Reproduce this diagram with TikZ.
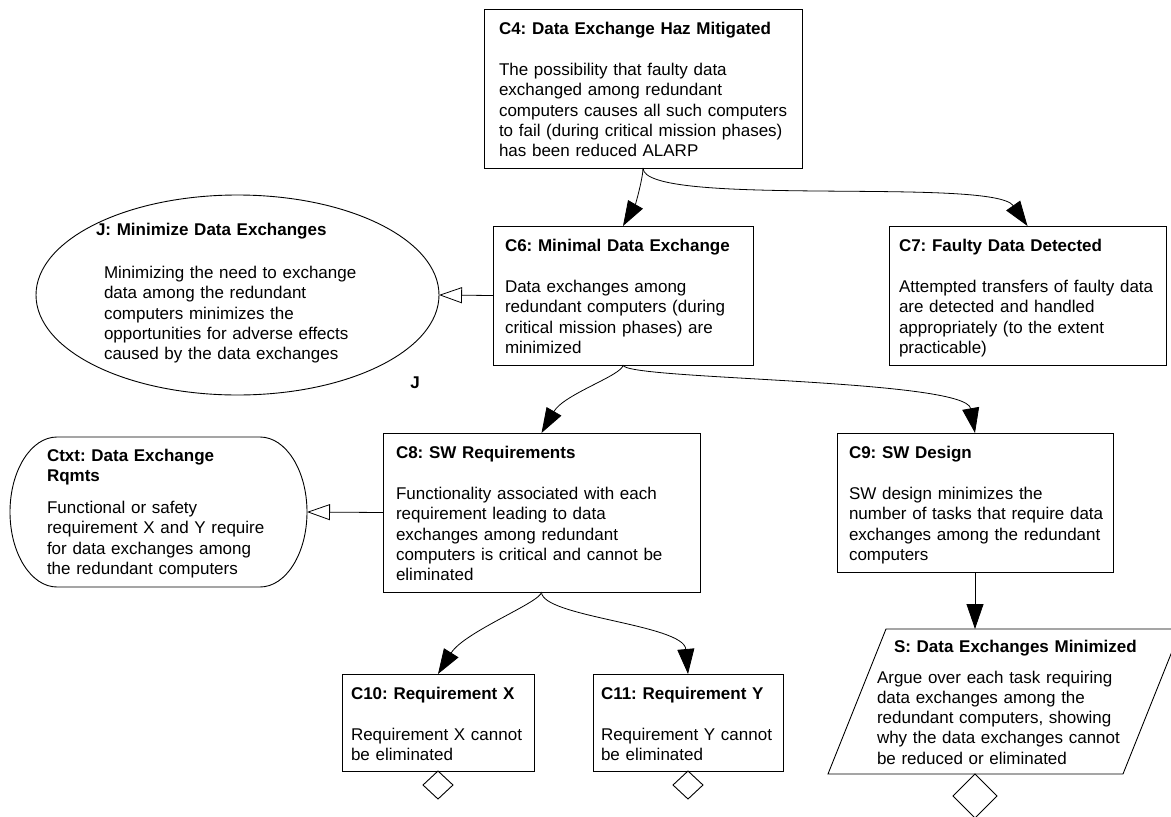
\documentclass[tikz,border=0pt]{standalone}
\usepackage{fontspec}
\setmainfont{Liberation Sans}
\usetikzlibrary{arrows.meta,shapes.geometric}
\frenchspacing
\newcommand\gsnfont{\fontsize{17pt}{20.3pt}\selectfont}
\tikzset{
  gbox/.style={draw, line width=0.9pt, fill=white, inner sep=0pt, outer sep=0pt, anchor=north west},
  gtxt/.style={anchor=base west, inner sep=0pt, outer sep=0pt, text width=#1, align=left, font=\gsnfont},
  gtxt/.default=300pt,
  hidden/.style={inner sep=0pt, outer sep=0pt},
  outline/.style={line width=0.9pt},
  supported/.style={line width=0.8pt, -{Triangle[length=25pt,width=17pt]}},
  incontext/.style={line width=0.8pt, -{Triangle[open,length=23pt,width=16pt,fill=white]}},
  undev/.style={draw, diamond, line width=0.9pt, inner sep=0pt, outer sep=0pt, anchor=north, fill=white},
}
\begin{document}
\begin{tikzpicture}[x=1pt,y=1pt]
\useasboundingbox (0,0) rectangle (1171,-817);
\clip (0,0) rectangle (1171,-817);
\fill[white] (0,0) rectangle (1171,-817);

% ---- claims ----
\node[gbox, minimum width=318pt, minimum height=159pt] (c4) at (484,-9) {};
\node[gtxt=300pt] (c4t) at ([shift={(15,-25)}]c4.north west)
  {\textbf{C4: Data Exchange Haz Mitigated}\\[21.2pt]The possibility that faulty data\\exchanged among redundant\\computers causes all such computers\\to fail (during critical mission phases)\\has been reduced ALARP};

\node[gbox, minimum width=260pt, minimum height=139pt] (c6) at (493,-226) {};
\node[gtxt=244pt] (c6t) at ([shift={(12,-25)}]c6.north west)
  {\textbf{C6: Minimal Data Exchange}\\[21.2pt]Data exchanges among\\redundant computers (during\\critical mission phases) are\\minimized};

\node[gbox, minimum width=277pt, minimum height=139pt] (c7) at (889,-226) {};
\node[gtxt=264pt] (c7t) at ([shift={(10,-25)}]c7.north west)
  {\textbf{C7: Faulty Data Detected}\\[21.2pt]Attempted transfers of faulty data\\are detected and handled\\appropriately (to the extent\\practicable)};

\node[gbox, minimum width=317pt, minimum height=159pt] (c8) at (383,-433) {};
\node[gtxt=300pt] (c8t) at ([shift={(13,-25)}]c8.north west)
  {\textbf{C8: SW Requirements}\\[21.2pt]Functionality associated with each\\requirement leading to data\\exchanges among redundant\\computers is critical and cannot be\\eliminated};

\node[gbox, minimum width=276pt, minimum height=139pt] (c9) at (837,-433) {};
\node[gtxt=262pt] (c9t) at ([shift={(12,-25)}]c9.north west)
  {\textbf{C9: SW Design}\\[21.2pt]SW design minimizes the\\number of tasks that require data\\exchanges among the redundant\\computers};

\node[gbox, minimum width=192pt, minimum height=97pt] (c10) at (342,-674) {};
\node[gtxt=182pt] (c10t) at ([shift={(9,-25)}]c10.north west)
  {\textbf{C10: Requirement X}\\[21.2pt]Requirement X cannot\\be eliminated};

\node[gbox, minimum width=190pt, minimum height=97pt] (c11) at (593,-674) {};
\node[gtxt=181pt] (c11t) at ([shift={(8,-25)}]c11.north west)
  {\textbf{C11: Requirement Y}\\[21.2pt]Requirement Y cannot\\be eliminated};

% ---- justification ----
\node[draw, ellipse, line width=0.9pt, fill=white, hidden, minimum width=403pt, minimum height=200pt] (j) at (237.5,-295) {};
\node[gtxt=240pt] (jt) at (96,-235) {\textbf{J: Minimize Data Exchanges}};
\node[gtxt=260pt] (jb) at (104,-278.5)
  {Minimizing the need to exchange\\data among the redundant\\computers minimizes the\\opportunities for adverse effects\\caused by the data exchanges};
\node[anchor=base, hidden, font=\gsnfont\bfseries] (jmark) at (415,-388) {J};

% ---- context ----
\node[hidden, minimum width=297pt, minimum height=150pt] (ctxt) at (158.5,-512) {};
\draw[outline] (57,-437) -- (260,-437)
  arc[start angle=90, end angle=-90, x radius=47, y radius=75]
  -- (57,-587)
  arc[start angle=270, end angle=90, x radius=47, y radius=75] -- cycle;
\node[gtxt=250pt] (ctxtt) at (47,-461)
  {\textbf{Ctxt: Data Exchange}\\\textbf{Rqmts}\\[11.9pt]Functional or safety\\requirement X and Y require\\for data exchanges among\\the redundant computers};

% ---- strategy ----
\node[hidden, anchor=north west, minimum width=353pt, minimum height=145pt] (s) at (828,-629) {};
\draw[outline, fill=white] ([xshift=58pt]s.north west) -- (s.north east)
  -- ([xshift=-58pt]s.south east) -- (s.south west) -- cycle;
\node[gtxt=250pt] (st) at (894,-652) {\textbf{S: Data Exchanges Minimized}};
\node[gtxt=250pt] (sb) at (877,-683)
  {Argue over each task requiring\\data exchanges among the\\redundant computers, showing\\why the data exchanges cannot\\be reduced or eliminated};

% ---- undeveloped markers ----
\node[undev, minimum width=30pt, minimum height=28pt] (c10u) at (c10.south) {};
\node[undev, minimum width=30pt, minimum height=28pt] (c11u) at (c11.south) {};
\node[undev, minimum width=44pt, minimum height=44pt] (su) at (c9.south |- s.south) {};

% ---- connectors ----
\draw[supported] (c4.south) to[out=-90, in=60, out distance=10pt, in distance=25pt] (c6.north);
\draw[supported] (c4.south) to[out=-90, in=125, out distance=40pt, in distance=60pt] (c7.north);
\draw[supported] (c6.south) to[out=-90, in=60, out distance=10pt, in distance=45pt] (c8.north);
\draw[supported] (c6.south) to[out=-90, in=100, out distance=15pt, in distance=55pt] (c9.north);
\draw[supported] (c8.south) to[out=-90, in=58, out distance=10pt, in distance=50pt] (c10.north);
\draw[supported] (c8.south) to[out=-90, in=95, out distance=25pt, in distance=50pt] (c11.north);
\draw[supported] (c9.south) -- (c9.south |- s.north);
\draw[incontext] (c6.west) -- (j.east);
\draw[incontext] (c8.west) -- (ctxt.east);
\end{tikzpicture}
\end{document}
